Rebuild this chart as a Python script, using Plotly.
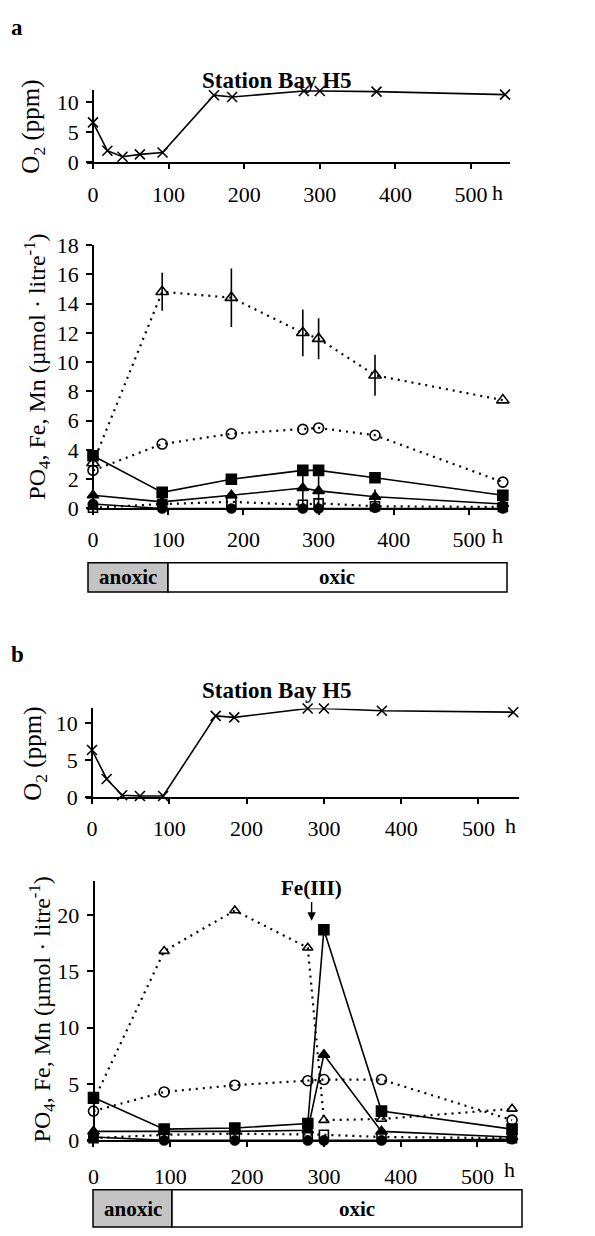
import plotly.graph_objects as go

W, H = 595, 1236
FONT = "Liberation Serif"

# ---------------- data ----------------
o2_hours = [0, 19, 39, 62, 92, 160, 184, 279, 300, 375, 545]
o2_a = [6.6, 1.9, 0.9, 1.3, 1.6, 11.1, 10.8, 11.8, 11.8, 11.7, 11.2]
o2_b = [6.4, 2.5, 0.3, 0.2, 0.2, 11.0, 10.8, 12.0, 12.0, 11.7, 11.5]

hours = [0, 92, 184, 279, 300, 375, 545]

# panel a (series: open triangle, open circle, filled square, filled triangle, open square, filled circle)
a_open_tri = [3.1, 14.8, 14.4, 12.0, 11.6, 9.1, 7.4]
a_open_tri_err = [0, 1.3, 2.0, 1.6, 1.4, 1.4, 0]
a_open_circ = [2.6, 4.4, 5.1, 5.4, 5.5, 5.0, 1.8]
a_fill_sq = [3.6, 1.1, 2.0, 2.6, 2.6, 2.1, 0.9]
a_fill_tri = [0.9, 0.45, 0.9, 1.4, 1.2, 0.8, 0.3]
a_fill_tri_err = [0, 0, 0, 1.2, 1.0, 0.5, 0]
a_open_sq = [0.05, 0.3, 0.45, 0.25, 0.35, 0.15, 0.1]
a_fill_circ = [0.3, 0.0, 0.0, 0.0, 0.0, 0.05, 0.0]

# panel b
b_open_tri = [3.5, 16.8, 20.4, 17.1, 1.8, 1.9, 2.8]
b_open_circ = [2.6, 4.3, 4.9, 5.3, 5.4, 5.4, 1.8]
b_fill_sq = [3.8, 1.0, 1.1, 1.5, 18.7, 2.6, 1.0]
b_fill_tri = [0.8, 0.8, 0.8, 0.9, 7.6, 0.8, 0.3]
b_open_sq = [0.2, 0.5, 0.6, 0.5, 0.5, 0.3, 0.2]
b_fill_circ = [0.3, 0.0, 0.0, 0.0, 0.0, 0.0, 0.1]

x_ticks = [0, 100, 200, 300, 400, 500]
o2_ticks = [0, 5, 10]
a_ticks = [0, 2, 4, 6, 8, 10, 12, 14, 16, 18]
b_ticks = [0, 5, 10, 15, 20]

# ---------------- geometry (pixels) ----------------
XR = [-8, 552]
panels = {
    1: dict(p0=93, s=0.756, y0=153.3, su=6.16, ymax=12, so=7, yt=o2_ticks),
    2: dict(p0=93, s=0.752, y0=506.7, su=14.94, ymax=18, so=5, yt=a_ticks),
    3: dict(p0=92, s=0.773, y0=801.7, su=7.57, ymax=12, so=5, yt=o2_ticks),
    4: dict(p0=93.5, s=0.768, y0=1151.7, su=11.5, ymax=23, so=10, yt=b_ticks),
}

fig = go.Figure()
layout = dict(width=W, height=H, margin=dict(l=0, r=0, t=0, b=0),
              paper_bgcolor="white", plot_bgcolor="white", showlegend=False,
              font=dict(family=FONT, size=22, color="black"))

for i, p in panels.items():
    left = p["p0"] + XR[0] * p["s"]
    right = p["p0"] + XR[1] * p["s"]
    top = p["y0"] - p["ymax"] * p["su"]
    xd = [left / W, right / W]
    yd = [1 - p["y0"] / H, 1 - top / H]
    suffix = "" if i == 1 else str(i)
    layout["xaxis" + suffix] = dict(
        domain=xd, range=XR, anchor="y" + suffix, tickvals=x_ticks,
        ticks="outside", ticklen=5, tickwidth=1.5, tickcolor="black",
        showline=True, linecolor="black", linewidth=1.5, showgrid=False,
        zeroline=False, tickfont=dict(family=FONT, size=22, color="black"),
        ticklabelstandoff=p["so"])
    pos = xd[0] + (0 - XR[0]) / (XR[1] - XR[0]) * (xd[1] - xd[0])
    layout["yaxis" + suffix] = dict(
        domain=yd, range=[0, p["ymax"]], anchor="free", position=pos,
        tickvals=p["yt"], ticks="outside", ticklen=6, tickwidth=1.5,
        tickcolor="black", showline=True, linecolor="black", linewidth=1.5,
        showgrid=False, zeroline=False,
        tickfont=dict(family=FONT, size=22, color="black"),
        ticklabelstandoff=3)

DOT = "2px,5px"


def add(x, y, sym, dash, i, size=9, err=None):
    suffix = "" if i == 1 else str(i)
    tr = go.Scatter(
        x=x, y=y, mode="lines+markers", cliponaxis=False,
        xaxis="x" + suffix, yaxis="y" + suffix,
        line=dict(color="black", width=1.6 if dash == "solid" else 2.2, dash=dash),
        marker=dict(symbol=sym, size=size, color="black",
                    line=dict(color="black", width=1.6)))
    if err is not None:
        tr.error_y = dict(type="data", array=err, visible=True, color="black",
                          thickness=1.6, width=0)
    fig.add_trace(tr)


# O2 panels
add(o2_hours, o2_a, "x-thin-open", "solid", 1, size=10)
add(o2_hours, o2_b, "x-thin-open", "solid", 3, size=10)

# panel a chemistry
add(hours, a_open_tri, "triangle-up-open", DOT, 2, size=11, err=a_open_tri_err)
add(hours, a_open_circ, "circle-open", DOT, 2, size=10)
add(hours, a_fill_sq, "square", "solid", 2, size=10)
add(hours, a_fill_tri, "triangle-up", "solid", 2, size=10, err=a_fill_tri_err)
add(hours, a_open_sq, "square-open", DOT, 2, size=9)
add(hours, a_fill_circ, "circle", "solid", 2, size=9)

# panel b chemistry
add(hours, b_open_tri, "triangle-up-open", DOT, 4, size=9)
add(hours, b_open_circ, "circle-open", DOT, 4, size=10)
add(hours, b_fill_sq, "square", "solid", 4, size=10)
add(hours, b_fill_tri, "triangle-up", "solid", 4, size=10)
add(hours, b_open_sq, "square-open", DOT, 4, size=9)
add(hours, b_fill_circ, "circle", "solid", 4, size=9)


def px(xp, yp):
    return xp / W, 1 - yp / H


ann = []
shapes = []


def text(xp, yp, t, size=22, bold=False, angle=0, xanchor="center"):
    x, y = px(xp, yp)
    ann.append(dict(x=x, y=y, xref="paper", yref="paper",
                    text=("<b>%s</b>" % t) if bold else t,
                    showarrow=False, textangle=angle, xanchor=xanchor, yanchor="middle",
                    font=dict(family=FONT, size=size, color="black")))


# panel letters and titles
text(17, 16, "a", 23, bold=True)
text(17, 656, "b", 23, bold=True)
text(277, 70, "Station Bay H5", 23, bold=True)
text(277, 692, "Station Bay H5", 23, bold=True)

# axis titles
text(33, 117, "O<sub>2</sub> (ppm)", 25, angle=-90)
text(37, 362, "PO<sub>4</sub>, Fe, Mn (µmol · litre<sup>-1</sup>)", 24, angle=-90)
text(35, 757, "O<sub>2</sub> (ppm)", 25, angle=-90)
text(42, 1018, "PO<sub>4</sub>, Fe, Mn (µmol · litre<sup>-1</sup>)", 24, angle=-90)

# "h" unit labels
text(497, 184, "h", 22)
text(497, 534, "h", 22)
text(511, 830, "h", 22)
text(509, 1181, "h", 22)

# Fe(III) marker
ann.append(dict(x=284, y=22.4, xref="x4", yref="y4", text="<b>Fe(III)</b>", showarrow=False,
                font=dict(family=FONT, size=21, color="black")))
ann.append(dict(x=284, y=19.5, ax=284, ay=21.3, xref="x4", yref="y4", axref="x4", ayref="y4",
                text="", showarrow=True, arrowhead=2, arrowsize=1.2, arrowwidth=1.4,
                arrowcolor="black"))


def box(x0, x1, xg, y0, y1):
    a0, b0 = px(x0, y0)
    a1, b1 = px(x1, y1)
    g, _ = px(xg, y0)
    shapes.append(dict(type="rect", xref="paper", yref="paper", x0=a0, x1=g, y0=b1, y1=b0,
                       fillcolor="#c4c4c4", line=dict(color="black", width=1.5)))
    shapes.append(dict(type="rect", xref="paper", yref="paper", x0=g, x1=a1, y0=b1, y1=b0,
                       fillcolor="white", line=dict(color="black", width=1.5)))


box(88, 507, 168, 562, 592)
text(128, 577, "anoxic", 21, bold=True)
text(337, 577, "oxic", 21, bold=True)
box(93, 522, 172, 1202, 1240)
text(133, 1222, "anoxic", 21, bold=True)
text(357, 1222, "oxic", 21, bold=True)

layout["annotations"] = ann
layout["shapes"] = shapes
fig.update_layout(**layout)
fig.write_html("out.html")
